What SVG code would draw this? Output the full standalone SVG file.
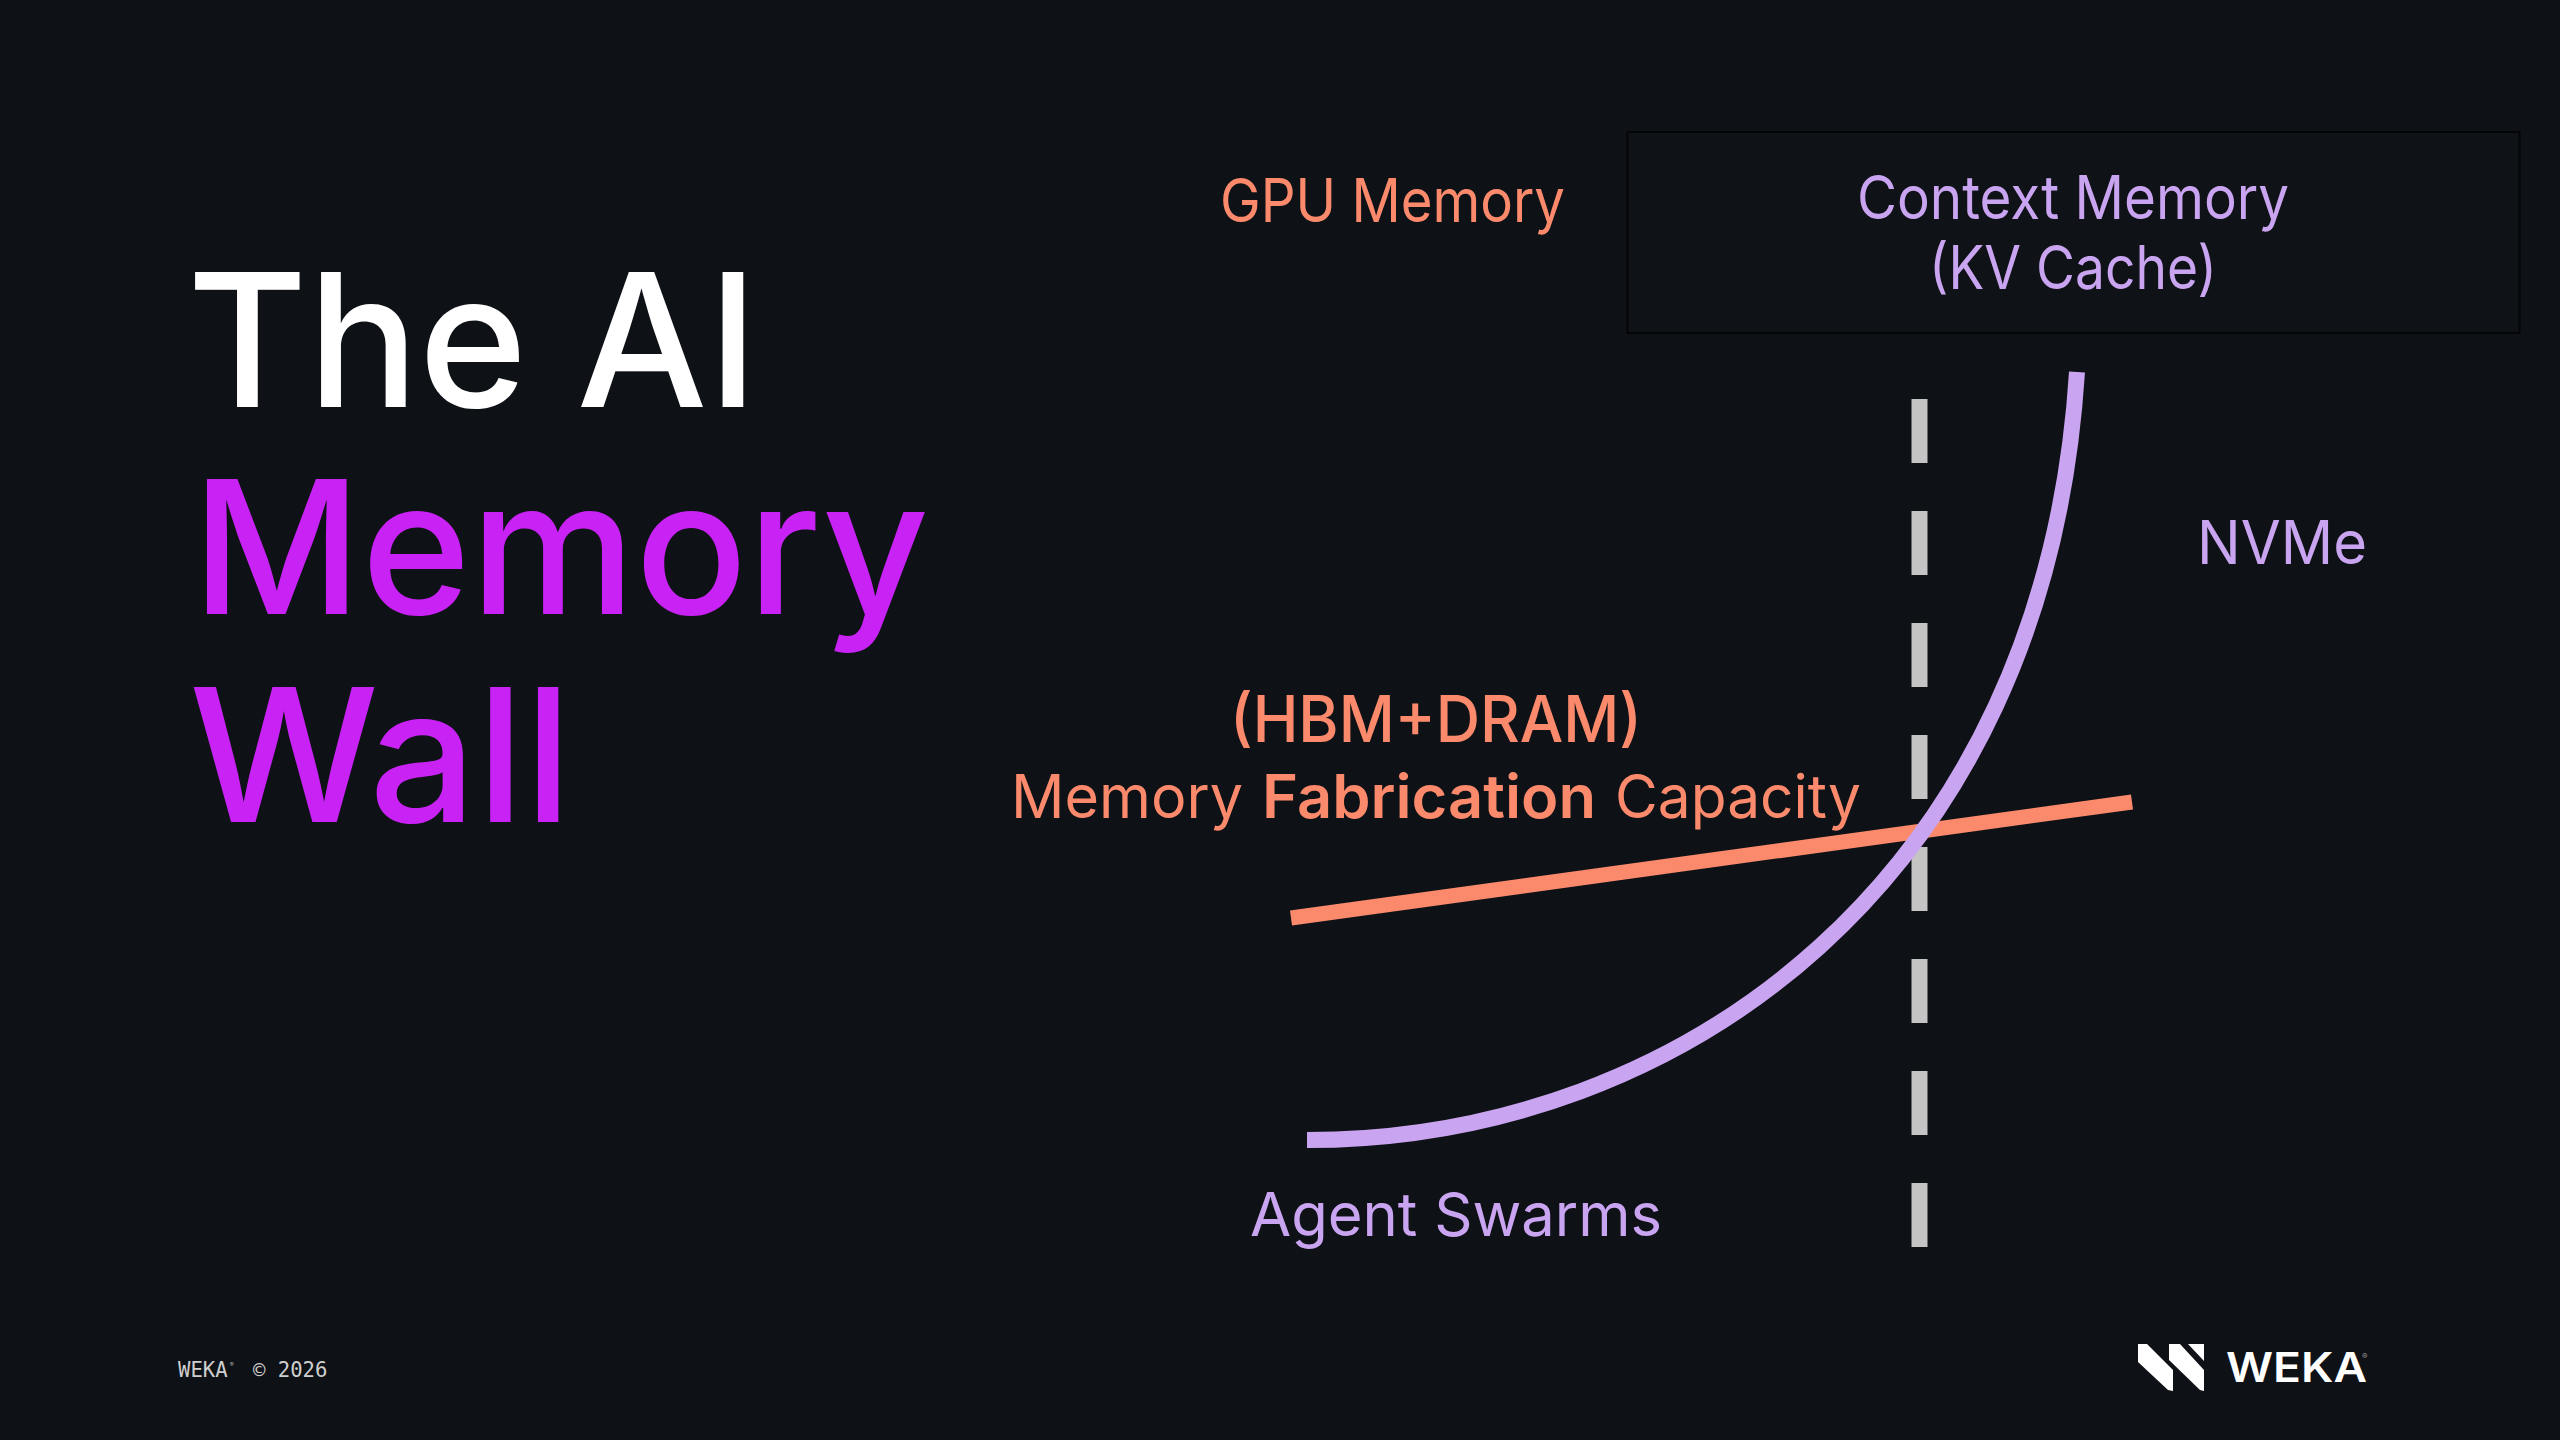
<svg xmlns="http://www.w3.org/2000/svg" width="2560" height="1440" viewBox="0 0 2560 1440">
<style>
text{font-family:"Inter","Noto Sans","Liberation Sans",sans-serif}
.title{font-size:186px;font-weight:500}
.lbl{font-size:60px;font-weight:400}
.bold{font-weight:600}
.or{fill:#fb8a6c}
.pu{fill:#c9a4f0}
.mag{fill:#c822f5}
.foot{font-family:"DejaVu Sans Mono","Liberation Mono",monospace;font-size:20.6px;fill:#cfcfcf}
.sup{font-size:6px}
</style>
<rect width="2560" height="1440" fill="#0e1116"/>
<g id="title">
<text class="title" x="187" y="407" fill="#ffffff" textLength="571" lengthAdjust="spacingAndGlyphs">The AI</text>
<text class="title mag" x="192" y="614" textLength="737" lengthAdjust="spacingAndGlyphs">Memory</text>
<text class="title mag" x="189" y="822" textLength="383" lengthAdjust="spacingAndGlyphs">Wall</text>
</g>
<g id="context-memory">
<rect x="1627.5" y="132" width="892" height="201" fill="#0f1216" stroke="#040506" stroke-width="2"/>
<text class="lbl pu" x="1857" y="219" textLength="432" lengthAdjust="spacingAndGlyphs">Context Memory</text>
<text class="lbl pu" x="1929" y="289" textLength="288" lengthAdjust="spacingAndGlyphs">(KV Cache)</text>
</g>
<g id="gpu-memory"><text class="lbl or" x="1220" y="222" textLength="345" lengthAdjust="spacingAndGlyphs">GPU Memory</text></g>
<g id="nvme"><text class="lbl pu" x="2197" y="564" textLength="170" lengthAdjust="spacingAndGlyphs">NVMe</text></g>
<g id="fabrication">
<text class="or" x="1230" y="742" font-size="64" font-weight="500" textLength="412" lengthAdjust="spacingAndGlyphs">(HBM+DRAM)</text>
<text class="lbl or" x="1011" y="818" textLength="232" lengthAdjust="spacingAndGlyphs">Memory</text>
<text class="lbl or bold" x="1262" y="818" textLength="334" lengthAdjust="spacingAndGlyphs">Fabrication</text>
<text class="lbl or" x="1615" y="818" textLength="246" lengthAdjust="spacingAndGlyphs">Capacity</text>
</g>
<g id="agent-swarms"><text class="lbl pu" x="1250" y="1236" textLength="412" lengthAdjust="spacingAndGlyphs">Agent Swarms</text></g>
<g id="connectors" fill="none">
<path d="M1919.5 399V1247" stroke="#c4c4c4" stroke-width="16" stroke-dasharray="64 48"/>
<path d="M1291 918L2132 802" stroke="#fb8a6c" stroke-width="15"/>
<path d="M1307 1140C1680 1140 2045 880 2077 372" stroke="#c9a4f0" stroke-width="16"/>
</g>
<g id="footer">
<text class="foot" x="178" y="1377">WEKA</text>
<text class="foot sup" x="230" y="1366">®</text>
<text class="foot" x="253" y="1377">© 2026</text>
</g>
<g id="weka-logo">
<polygon fill="#ffffff" points="2138,1344 2147,1344 2173,1370 2173,1391 2168,1390 2138,1362"/>
<polygon fill="#ffffff" points="2169,1344 2180,1344 2204,1370 2204,1391 2200,1390 2169,1360"/>
<polygon fill="#ffffff" points="2188,1344 2204,1344 2204,1361"/>
<text x="2226" y="1382" font-size="41" font-weight="600" fill="#ffffff" textLength="141" lengthAdjust="spacingAndGlyphs">WEKA</text>
<text x="2362" y="1359" font-size="8" fill="#9a9a9a">®</text>
</g>
</svg>
